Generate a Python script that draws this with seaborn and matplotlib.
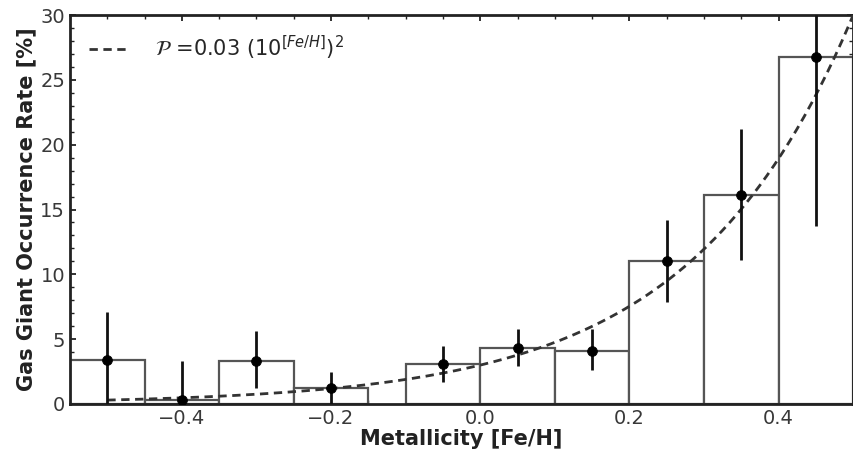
import numpy as np
import pandas as pd
import matplotlib
matplotlib.use("Agg")
import matplotlib.pyplot as plt
from matplotlib.ticker import MultipleLocator
import seaborn as sns

# Occurrence rate per metallicity bin
bin_left = [-0.55, -0.45, -0.35, -0.25, -0.10, 0.00, 0.10, 0.20, 0.30, 0.40]
bin_right = [-0.45, -0.35, -0.25, -0.15, 0.00, 0.10, 0.20, 0.30, 0.40, 0.50]
bin_center = [-0.50, -0.40, -0.30, -0.20, -0.05, 0.05, 0.15, 0.25, 0.35, 0.45]
rate = [3.4, 0.3, 3.3, 1.2, 3.1, 4.3, 4.1, 11.0, 16.1, 26.8]
rate_low = [0.0, 0.0, 1.2, 0.0, 1.7, 2.9, 2.6, 7.9, 11.1, 13.7]
rate_high = [7.1, 3.3, 5.6, 2.5, 4.5, 5.8, 5.8, 14.2, 21.2, 30.0]

# Power-law fit P = 0.03 (10^[Fe/H])^2, in percent
fit_coeff = 0.03
fit_feh = np.linspace(-0.5, 0.5, 200)

sns.set_style("ticks")
plt.rcParams["font.family"] = ["DejaVu Sans"]

fig = plt.figure(figsize=(8.54, 4.57), dpi=100)
ax = fig.add_axes([0.082, 0.116, 0.917, 0.851])

widths = np.array(bin_right) - np.array(bin_left)
ax.bar(bin_left, rate, width=widths, align="edge", facecolor="white",
       edgecolor="#555555", linewidth=1.6, zorder=1)

fit_df = pd.DataFrame({"feh": fit_feh,
                       "P": 100 * fit_coeff * (10 ** fit_feh) ** 2})
sns.lineplot(data=fit_df, x="feh", y="P", ax=ax, color="#333333",
             linewidth=2.0, linestyle=(0, (3, 2)), zorder=3,
             label=r"$\mathcal{P}$ =0.03 (10$^{[Fe/H]}$)$^2$")

ax.vlines(bin_center, rate_low, rate_high, color="#111111", linewidth=2.0,
          zorder=4)
pts = pd.DataFrame({"feh": bin_center, "rate": rate})
sns.scatterplot(data=pts, x="feh", y="rate", ax=ax, color="black", s=50,
                edgecolor="black", zorder=5)

ax.set_xlim(-0.55, 0.5)
ax.set_ylim(0, 30)
ax.xaxis.set_major_locator(MultipleLocator(0.2))
ax.xaxis.set_minor_locator(MultipleLocator(0.05))
ax.yaxis.set_major_locator(MultipleLocator(5))
ax.yaxis.set_minor_locator(MultipleLocator(1))
ax.tick_params(which="both", direction="in", top=True, right=True,
               colors="#222222", labelcolor="#383838")
ax.tick_params(which="major", length=4, width=1.3, labelsize=14)
ax.tick_params(which="minor", length=3, width=1.0)
for s in ax.spines.values():
    s.set_linewidth(2.0)
    s.set_color("#222222")

ax.set_xlabel("Metallicity [Fe/H]", fontsize=15, fontweight="bold",
              color="#222222", labelpad=1)
ax.set_ylabel("Gas Giant Occurrence Rate [%]", fontsize=15,
              fontweight="bold", color="#222222", labelpad=3)

ax.legend(loc="upper left", frameon=False, fontsize=15, handlelength=1.9,
          handletextpad=1.3, borderaxespad=0.5)

fig.savefig("out.png", dpi=100)
